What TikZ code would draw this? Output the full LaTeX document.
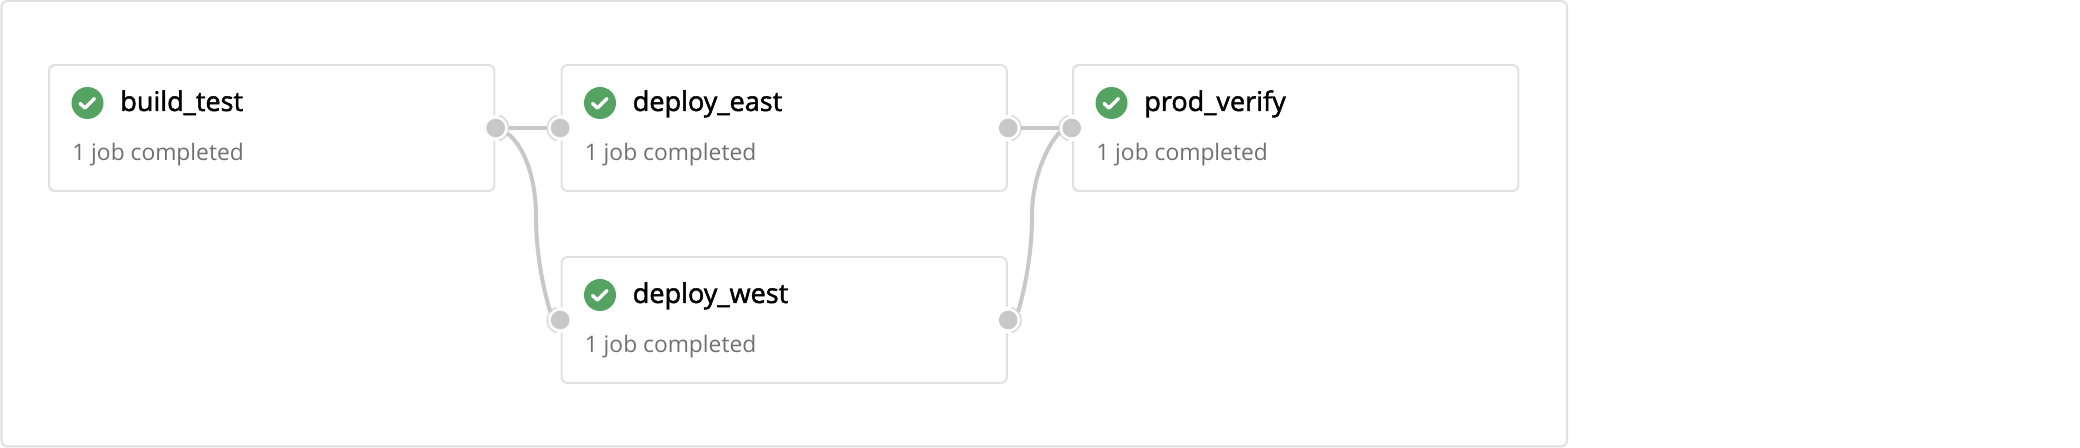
\documentclass[tikz,border=0pt]{standalone}
\usepackage{fontspec}
\setmainfont{Open Sans}
\newfontfamily\titlefont[FakeBold=1.7]{Open Sans}

\definecolor{jobline}{HTML}{E0E0E0}
\definecolor{jobport}{HTML}{C8C8C8}
\definecolor{jobok}{HTML}{55A362}
\definecolor{jobgrey}{HTML}{707070}

\tikzset{%
    jobbox/.style={draw=jobline, line width=1.5pt, rounded corners=4.5pt, fill=white,
        minimum width=334pt, minimum height=94.5pt, inner sep=0pt, outer sep=0pt, anchor=north west},
    jobicon/.style={circle, fill=jobok, minimum size=24pt, inner sep=0pt},
    jobtitle/.style={anchor=base west, inner sep=0pt, font=\titlefont\fontsize{20.3}{24}\selectfont, text=black},
    jobsub/.style={anchor=base west, inner sep=0pt, font=\fontsize{17.1}{20}\selectfont, text=jobgrey},
    portring/.style={circle, fill=white, minimum size=19.5pt, inner sep=0pt, outer sep=0pt},
    portdot/.style={circle, fill=jobport, minimum size=14pt, inner sep=0pt},
    jobedge/.style={draw=jobport, line width=3pt}
}

\begin{document}
\begin{tikzpicture}[x=0.75pt, y=0.75pt]
\useasboundingbox (0,0) rectangle (2080,448);

\draw[jobline, line width=1.5pt, rounded corners=4.5pt] (1.5,1.5) rectangle (1567,447);

\foreach \name/\px/\py/\title in {buildtest/49/383/build\_test, deployeast/561.5/383/deploy\_east,
    deploywest/561.5/191/deploy\_west, prodverify/1073/383/prod\_verify} {
    \node[jobbox] (\name) at (\px,\py) {};
    \node[jobicon] (\name-icon) at ([shift={(38.5,-38)}]\name.north west) {};
    \draw[white, line width=2.6pt, line cap=round, line join=round]
        ([shift={(-7.5,-0.5)}]\name-icon.center) -- ([shift={(-2.5,-5)}]\name-icon.center) -- ([shift={(7,4.5)}]\name-icon.center);
    \node[jobtitle] (\name-label) at ([shift={(71,-46)}]\name.north west) {\title};
    \node[jobsub] (\name-sub) at ([shift={(23,-96)}]\name.north west) {1 job completed};
}

% ports sit on the box edges
\foreach \name in {buildtest, deployeast, deploywest} {
    \node[portring] (\name-out) at ([xshift=1pt]\name.east) {};
    \draw[jobline, line width=1.5pt] (\name-out.75) arc[start angle=75, end angle=-75, radius=13];
}
\foreach \name in {deployeast, deploywest, prodverify} {
    \node[portring] (\name-in) at ([xshift=-1pt]\name.west) {};
    \draw[jobline, line width=1.5pt] (\name-in.105) arc[start angle=105, end angle=255, radius=13];
}

\coordinate (westmid) at (536,232);
\coordinate (verifymid) at (1032,232);

\draw[jobedge] (buildtest-out) -- (deployeast-in);
\draw[jobedge] (deployeast-out) -- (prodverify-in);
\draw[jobedge] (buildtest-out.-25) .. controls (523,303) and (536,272) .. (westmid)
    .. controls (536,195) and (543,160) .. (deploywest-in.140);
\draw[jobedge] (deploywest-out.40) .. controls (1025,160) and (1032,195) .. (verifymid)
    .. controls (1032,272) and (1048,303) .. (prodverify-in.200);

\foreach \name in {buildtest, deployeast, deploywest} {
    \node[portdot] (\name-outdot) at (\name-out) {};
}
\foreach \name in {deployeast, deploywest, prodverify} {
    \node[portdot] (\name-indot) at (\name-in) {};
}

\end{tikzpicture}
\end{document}
